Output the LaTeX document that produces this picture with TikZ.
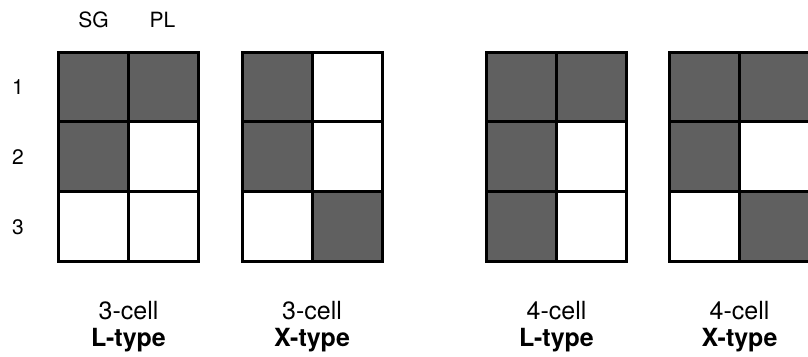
\documentclass[tikz,border=0pt]{standalone}
\usepackage{fontspec}
\setmainfont{TeX Gyre Heros}
\usepackage{tikz}
\usetikzlibrary{positioning}
\definecolor{cellgray}{RGB}{96,96,96}
\tikzset{
    cell/.style ={rectangle, draw, line width=3pt, inner sep=0pt,
                  minimum width=70pt, minimum height=69.7pt, node contents={}},
    full/.style ={cell, fill=cellgray},
    empty/.style ={cell, fill=white},
    head/.style ={inner sep=0pt, font=\fontsize{21}{24}\selectfont},
    caption/.style ={inner sep=0pt, anchor=base, font=\fontsize{25}{28}\selectfont},
    kind/.style ={caption, font=\fontsize{25}{28}\selectfont\bfseries}
    }

\begin{document}
\begin{tikzpicture}[x=1pt, y=-1pt]
    \useasboundingbox (0,0) rectangle (808,356);
    % column and row heads
    \node (sg) at (93.5,20) [head] {SG};
    \node (pl) at (162.5,20) [head] {PL};
    \node (r1) at (18,87) [head] {1};
    \node (r2) at (18,157) [head] {2};
    \node (r3) at (18,227) [head] {3};

    % 3-cell L-type
    \node (a11) at (93.5,86.9)   [full];
    \node (a12) at (163.5,86.9)  [full];
    \node (a21) at (93.5,156.6)  [full];
    \node (a22) at (163.5,156.6) [empty];
    \node (a31) at (93.5,226.3)  [empty];
    \node (a32) at (163.5,226.3) [empty];

    % 3-cell X-type
    \node (b11) at (277,86.9)  [full];
    \node (b12) at (347,86.9)  [empty];
    \node (b21) at (277,156.6) [full];
    \node (b22) at (347,156.6) [empty];
    \node (b31) at (277,226.3) [empty];
    \node (b32) at (347,226.3) [full];

    % 4-cell L-type
    \node (c11) at (521.5,86.9)  [full];
    \node (c12) at (591.5,86.9)  [full];
    \node (c21) at (521.5,156.6) [full];
    \node (c22) at (591.5,156.6) [empty];
    \node (c31) at (521.5,226.3) [full];
    \node (c32) at (591.5,226.3) [empty];

    % 4-cell X-type
    \node (d11) at (704.5,86.9)  [full];
    \node (d12) at (774.5,86.9)  [full];
    \node (d21) at (704.5,156.6) [full];
    \node (d22) at (774.5,156.6) [empty];
    \node (d31) at (704.5,226.3) [empty];
    \node (d32) at (774.5,226.3) [full];

    % captions
    \node (ca) at (128.5,319) [caption] {3-cell};
    \node (ka) at (128.5,346.7) [kind] {L-type};
    \node (cb) at (312,319) [caption] {3-cell};
    \node (kb) at (312,346.7) [kind] {X-type};
    \node (cc) at (556.5,319) [caption] {4-cell};
    \node (kc) at (556.5,346.7) [kind] {L-type};
    \node (cd) at (739.5,319) [caption] {4-cell};
    \node (kd) at (739.5,346.7) [kind] {X-type};
\end{tikzpicture}
\end{document}
